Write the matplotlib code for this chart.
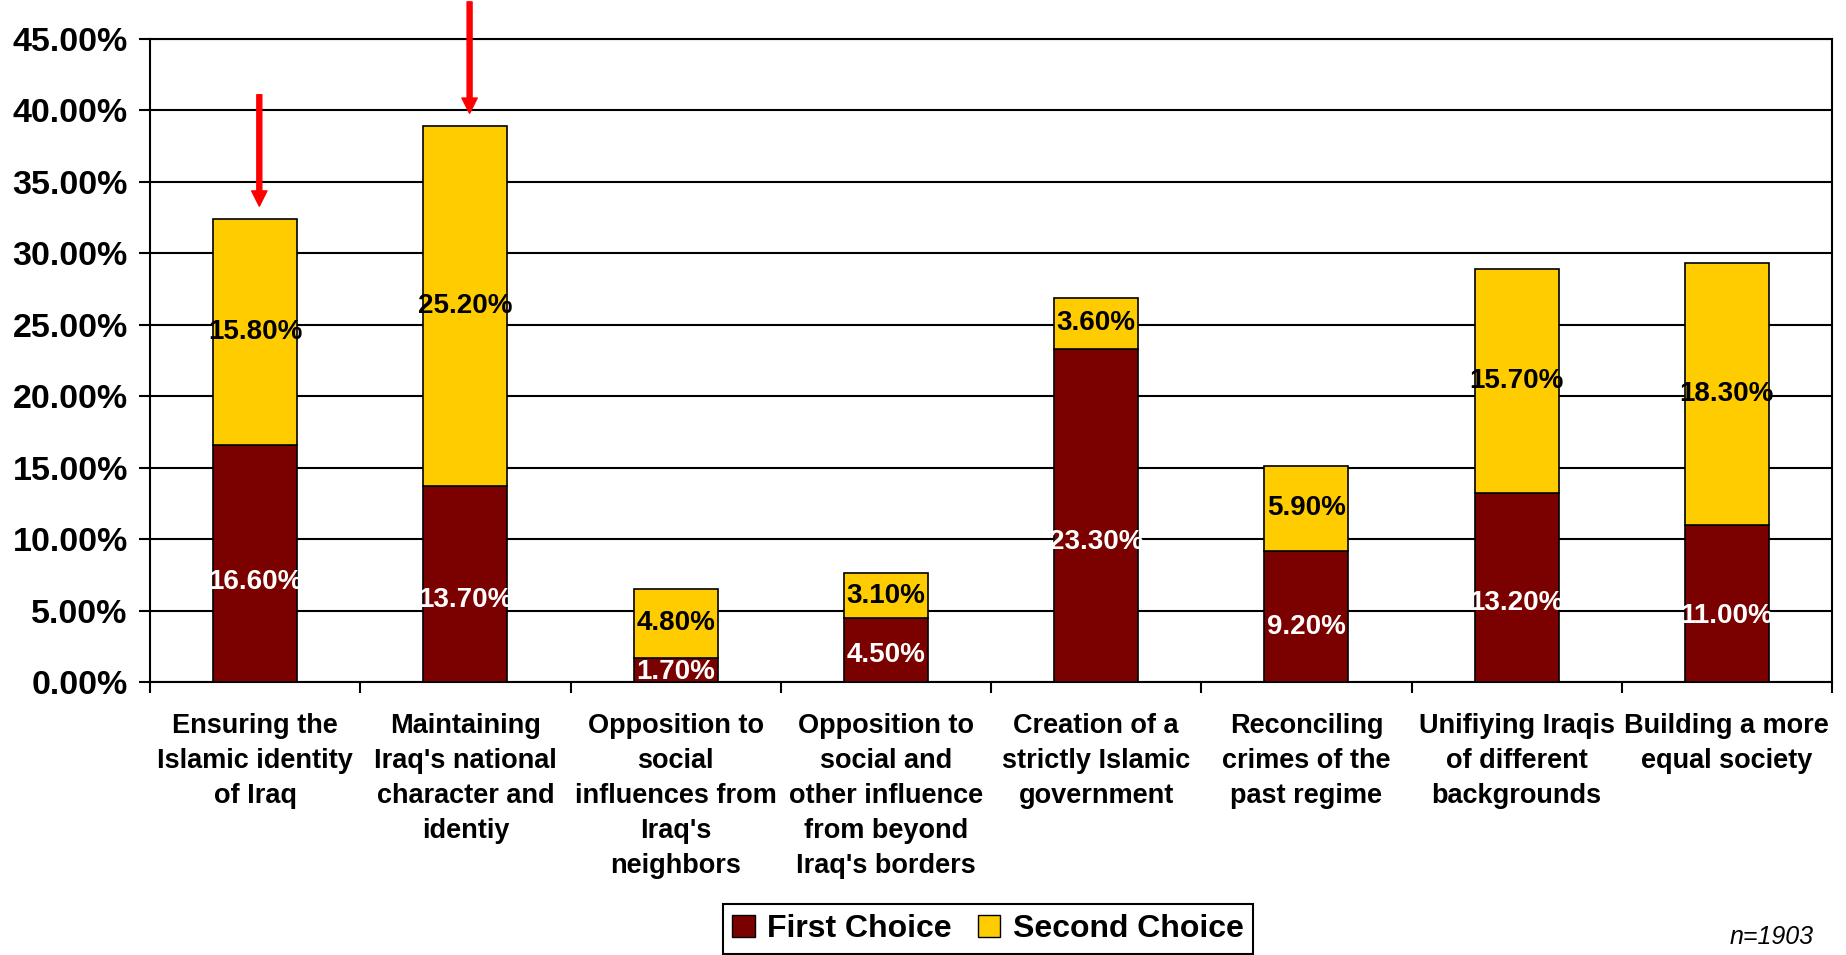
import numpy as np
import matplotlib
matplotlib.use('Agg')
import matplotlib.pyplot as plt
from matplotlib.patches import Patch

# values
categories = [
    "Ensuring the\nIslamic identity\nof Iraq",
    "Maintaining\nIraq's national\ncharacter and\nidentiy",
    "Opposition to\nsocial\ninfluences from\nIraq's\nneighbors",
    "Opposition to\nsocial and\nother influence\nfrom beyond\nIraq's borders",
    "Creation of a\nstrictly Islamic\ngovernment",
    "Reconciling\ncrimes of the\npast regime",
    "Unifiying Iraqis\nof different\nbackgrounds",
    "Building a more\nequal society",
]
first_choice = [16.6, 13.7, 1.7, 4.5, 23.3, 9.2, 13.2, 11.0]
second_choice = [15.8, 25.2, 4.8, 3.1, 3.6, 5.9, 15.7, 18.3]
series_names = ["First Choice", "Second Choice"]
y_ticks = [0, 5, 10, 15, 20, 25, 30, 35, 40, 45]
highlighted = [0, 1]  # bars marked with red arrows
sample_note = "n=1903"

plt.rcParams['font.family'] = ['Liberation Sans', 'DejaVu Sans']

dark_red = '#7B0000'
yellow = '#FFCC00'

W, H = 1846, 955
fig = plt.figure(figsize=(W / 100, H / 100), dpi=100)
ax = fig.add_axes([150 / W, (H - 682) / H, (1832 - 150) / W, (682 - 39) / H])

x = np.arange(len(categories))
first = np.array(first_choice)
second = np.array(second_choice)
totals = first + second

ax.bar(x, first, width=0.4, color=dark_red, edgecolor='black', linewidth=1.2, zorder=3)
ax.bar(x, second, bottom=first, width=0.4, color=yellow, edgecolor='black', linewidth=1.2, zorder=3)

# data labels
for xi, f, s in zip(x, first, second):
    ax.text(xi, f * 0.42, f'{f:.2f}%', color='white', ha='center', va='center',
            fontsize=20, fontweight='bold', zorder=4)
    ax.text(xi, f + s / 2, f'{s:.2f}%', color='black', ha='center', va='center',
            fontsize=20, fontweight='bold', zorder=4)

# red arrows pointing at highlighted bars
for i in highlighted:
    ax.annotate('', xy=(x[i] + 0.02, totals[i] + 0.9), xytext=(x[i] + 0.02, totals[i] + 8.7),
                arrowprops=dict(facecolor='red', edgecolor='red', width=3.6,
                                headwidth=11, headlength=11, shrink=0),
                annotation_clip=False, zorder=5)

ax.set_xlim(-0.5, len(categories) - 0.5)
ax.set_ylim(0, 45)
ax.set_yticks(y_ticks)
ax.set_yticklabels([f'{v:.2f}%' for v in y_ticks], fontsize=24.5, fontweight='bold')
ax.yaxis.grid(True, color='black', linewidth=1.5, zorder=0)
ax.set_axisbelow(True)

ax.set_xticks(x)
ax.set_xticklabels(categories, fontsize=19.5, fontweight='bold', linespacing=1.45)
ax.tick_params(axis='x', which='major', length=0, pad=22)
ax.set_xticks(np.arange(-0.5, len(categories), 1), minor=True)
ax.tick_params(axis='x', which='minor', length=8, width=1.5, color='black')
ax.tick_params(axis='y', length=8, width=1.5, pad=8)

for sp in ax.spines.values():
    sp.set_color('black')
    sp.set_linewidth(1.5)

handles = [Patch(facecolor=dark_red, edgecolor='black'),
           Patch(facecolor=yellow, edgecolor='black')]
leg = fig.legend(handles, series_names, loc='center',
                 bbox_to_anchor=(988 / W, 1 - 929 / H), ncol=2,
                 prop={'size': 23, 'weight': 'bold'}, fancybox=False,
                 edgecolor='black', framealpha=1, handlelength=0.7,
                 handleheight=0.7, handletextpad=0.4, columnspacing=0.8,
                 borderpad=0.3)
leg.get_frame().set_linewidth(1.5)

fig.text(1814 / W, 1 - 937 / H, sample_note, ha='right', va='center',
         fontsize=18, style='italic')

fig.savefig('out.png', dpi=100)
